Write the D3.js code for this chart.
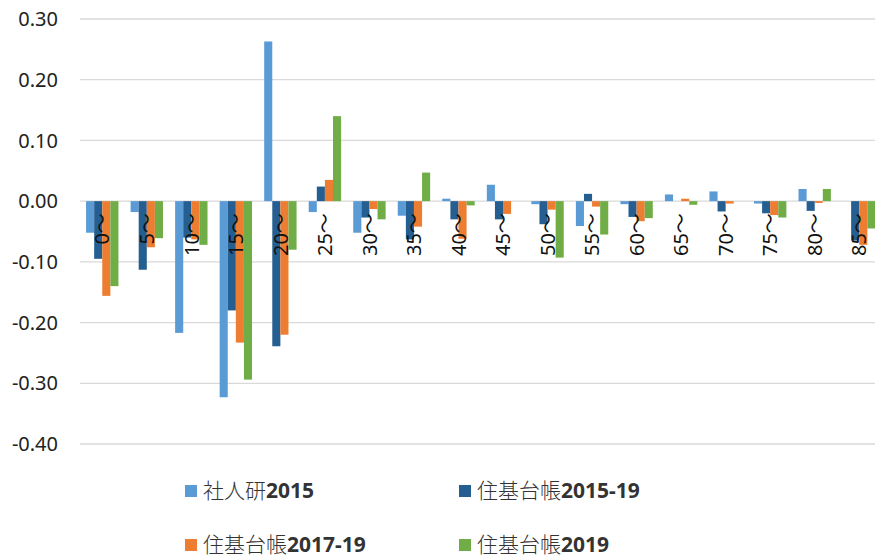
<!DOCTYPE html>
<html>
<head>
<meta charset="utf-8">
<script src="https://cdn.jsdelivr.net/npm/d3@7"></script>
<style>
  html, body { margin: 0; padding: 0; background: #fff; }
  svg { display: block; }
</style>
</head>
<body>
<div id="chart"></div>
<script>
// age groups (x axis)
const categories = ['0～', '5～', '10～', '15～', '20～', '25～', '30～', '35～', '40～',
  '45～', '50～', '55～', '60～', '65～', '70～', '75～', '80～', '85～'];

const seriesNames = ['社人研2015', '住基台帳2015-19', '住基台帳2017-19', '住基台帳2019'];
const seriesColors = ['#5B9BD5', '#255E91', '#ED7D31', '#70AD47'];

// values
const shajinken2015 = [-0.052, -0.018, -0.217, -0.323, 0.263, -0.018, -0.052, -0.024, 0.004,
  0.027, -0.005, -0.041, -0.005, 0.011, 0.016, -0.004, 0.020, 0.000];
const juki2015_19 = [-0.095, -0.113, -0.060, -0.180, -0.239, 0.024, -0.027, -0.063, -0.030,
  -0.030, -0.038, 0.012, -0.026, 0.000, -0.017, -0.020, -0.016, -0.065];
const juki2017_19 = [-0.156, -0.076, -0.063, -0.233, -0.220, 0.035, -0.013, -0.042, -0.062,
  -0.021, -0.014, -0.009, -0.033, 0.004, -0.004, -0.023, -0.003, -0.072];
const juki2019 = [-0.140, -0.061, -0.072, -0.294, -0.080, 0.140, -0.030, 0.047, -0.007,
  0.000, -0.093, -0.055, -0.028, -0.006, 0.000, -0.027, 0.020, -0.045];

const yTicks = [0.3, 0.2, 0.1, 0.0, -0.1, -0.2, -0.3, -0.4];

const seriesValues = [shajinken2015, juki2015_19, juki2017_19, juki2019];

const W = 875, H = 557;
const plot = { left: 80, right: 881.5, top: 19, bottom: 444 };

const svg = d3.select('#chart').append('svg')
  .attr('width', W).attr('height', H)
  .style('font-family', "'Noto Sans', 'Noto Sans CJK JP', sans-serif");

const y = d3.scaleLinear().domain([-0.4, 0.3]).range([plot.bottom, plot.top]);

// Excel style gap width 150%
const gap = 1.5 / 5.5;
const x0 = d3.scaleBand().domain(categories)
  .range([plot.left, plot.right])
  .paddingInner(gap).paddingOuter(gap / 2);
const x1 = d3.scaleBand().domain(d3.range(seriesNames.length))
  .range([0, x0.bandwidth()]);

// gridlines
svg.append('g').selectAll('line')
  .data(yTicks)
  .join('line')
  .attr('x1', plot.left).attr('x2', W)
  .attr('y1', d => y(d)).attr('y2', d => y(d))
  .attr('stroke', '#D9D9D9')
  .attr('stroke-width', 1.3);

// y labels
svg.append('g').selectAll('text')
  .data(yTicks)
  .join('text')
  .attr('x', 58)
  .attr('y', d => y(d))
  .attr('dy', '0.36em')
  .attr('text-anchor', 'end')
  .style('font-size', '20px')
  .attr('fill', '#222')
  .text(d => d.toFixed(2));

// bars
const rows = categories.map((c, i) => ({ cat: c, vals: seriesValues.map(s => s[i]) }));
const groups = svg.append('g').selectAll('g')
  .data(rows)
  .join('g')
  .attr('transform', d => `translate(${x0(d.cat)},0)`);

groups.selectAll('rect')
  .data(d => d.vals.map((v, k) => ({ v, k })))
  .join('rect')
  .attr('x', d => x1(d.k))
  .attr('width', x1.bandwidth())
  .attr('y', d => Math.min(y(d.v), y(0)))
  .attr('height', d => Math.abs(y(d.v) - y(0)))
  .attr('fill', d => seriesColors[d.k]);

// category labels, rotated, drawn over bars
svg.append('g').selectAll('text')
  .data(categories)
  .join('text')
  .attr('transform', d => `translate(${x0(d) + x0.bandwidth() / 2},${y(0) + 12}) rotate(-90)`)
  .attr('text-anchor', 'end')
  .attr('dy', '0.36em')
  .style('font-size', '20px')
  .attr('fill', '#111')
  .text(d => d);

// legend
const legendPos = [[185, 491], [459, 491], [185, 545], [459, 545]];
const legend = svg.append('g').selectAll('g')
  .data(seriesNames)
  .join('g')
  .attr('transform', (d, i) => `translate(${legendPos[i][0]},${legendPos[i][1]})`);

legend.append('rect')
  .attr('x', 0).attr('y', -6)
  .attr('width', 12).attr('height', 12)
  .attr('fill', (d, i) => seriesColors[i]);

const lt = legend.append('text')
  .attr('x', 18)
  .attr('y', 7)
  .style('font-size', '21px')
  .attr('fill', '#333');
lt.append('tspan')
  .style('font-family', "'Noto Sans CJK JP', sans-serif")
  .style('font-weight', 300)
  .text(d => d.match(/^[^0-9]+/)[0]);
lt.append('tspan')
  .style('font-weight', 'bold')
  .text(d => d.replace(/^[^0-9]+/, ''));
</script>
</body>
</html>
